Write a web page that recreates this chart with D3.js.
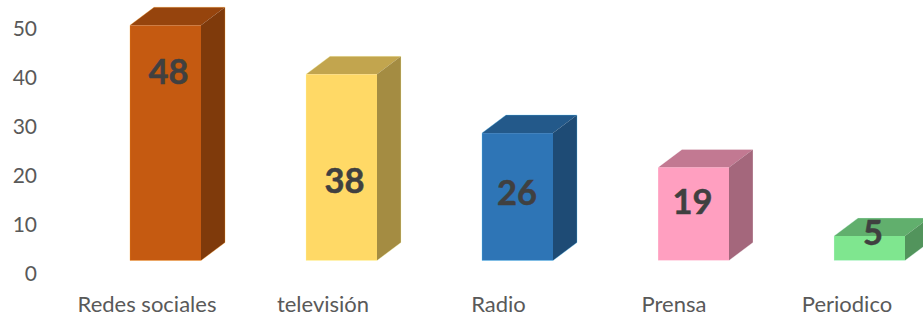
<!DOCTYPE html>
<html>
<head>
<meta charset="utf-8">
<script src="https://cdn.jsdelivr.net/npm/d3@7"></script>
<style>
  html, body { margin: 0; padding: 0; background: #fff; }
  svg { display: block; }
  text { font-family: Lato, "Open Sans", sans-serif; }
</style>
</head>
<body>
<svg id="chart" width="923" height="320"></svg>
<script>
const categories = ["Redes sociales", "televisión", "Radio", "Prensa", "Periodico"];
const values = [48, 38, 26, 19, 5];
const yTicks = [0, 10, 20, 30, 40, 50];
const frontColors = ["#C55A11", "#FFD966", "#2E75B6", "#FF9FC0", "#7FE68F"];

// Oblique extrusion of each column
const depthX = 24, depthY = -18;
const barWidth = 71;

const svg = d3.select("#chart");
const x = d3.scaleBand().domain(categories).range([77.5, 957.5]).padding(0);
const y = d3.scaleLinear().domain([0, 50]).range([260.5, 15.5]);
const cx = d => x(d) + x.bandwidth() / 2;

// Hand-placed label nudges, as on a manually arranged column chart
const labelDx = [3, 3, -0.5, -1, 3.5];
const labelDy = [50, 110, 63, 38, 0];
const categoryDx = [-18.5, -18.5, -19, -19.5, -22.5];

// Scale every channel of a colour to get a shaded face
const shade = (hex, k) => {
  const c = d3.rgb(hex);
  return d3.rgb(c.r * k, c.g * k, c.b * k).formatHex();
};

// Value axis: the labels sit slightly below the floor of the columns
svg.append("g").selectAll("text").data(yTicks).join("text")
  .attr("x", 37).attr("y", d => y(d) + 15)
  .attr("text-anchor", "end").attr("dominant-baseline", "middle")
  .attr("font-size", 21).attr("fill", "#595959")
  .text(d => d);

const bars = svg.append("g").selectAll("g").data(categories).join("g");

bars.each(function (c, i) {
  const g = d3.select(this);
  const l = cx(c) - barWidth / 2, r = l + barWidth;
  const top = y(values[i]), bot = y(0);
  const base = frontColors[i];
  const line = d3.line();
  const edge = d3.color(base).brighter(1.5).formatHex();
  // top face
  g.append("path")
    .attr("d", line([[l, top], [l + depthX, top + depthY], [r + depthX, top + depthY], [r, top]]) + "Z")
    .attr("fill", shade(base, 0.76));
  // side face
  g.append("path")
    .attr("d", line([[r, top], [r + depthX, top + depthY], [r + depthX, bot + depthY], [r, bot]]) + "Z")
    .attr("fill", shade(base, 0.645));
  // front face
  g.append("rect")
    .attr("x", l).attr("y", top)
    .attr("width", barWidth).attr("height", bot - top)
    .attr("fill", base);
  // pale rim around the silhouette
  g.append("path")
    .attr("d", line([[l, top], [l + depthX, top + depthY], [r + depthX, top + depthY], [r + depthX, bot + depthY], [r, bot], [l, bot]]) + "Z")
    .attr("fill", "none").attr("stroke", edge)
    .attr("stroke-width", 1).attr("stroke-opacity", 0.3);
});

// Value labels
svg.append("g").selectAll("text").data(categories).join("text")
  .attr("x", (c, i) => cx(c) + labelDx[i])
  .attr("y", (c, i) => y(values[i]) + labelDy[i])
  .attr("text-anchor", "middle").attr("dominant-baseline", "middle")
  .attr("font-size", 34.5).attr("font-weight", 700).attr("fill", "#404040")
  .attr("stroke", "#404040").attr("stroke-width", 0.5)
  .text((c, i) => values[i]);

// Category labels, shifted left of the columns by the projection
svg.append("g").selectAll("text").data(categories).join("text")
  .attr("x", (c, i) => cx(c) + categoryDx[i])
  .attr("y", 306)
  .attr("text-anchor", "middle").attr("dominant-baseline", "middle")
  .attr("font-size", 22).attr("fill", "#595959")
  .text(c => c);
</script>
</body>
</html>
